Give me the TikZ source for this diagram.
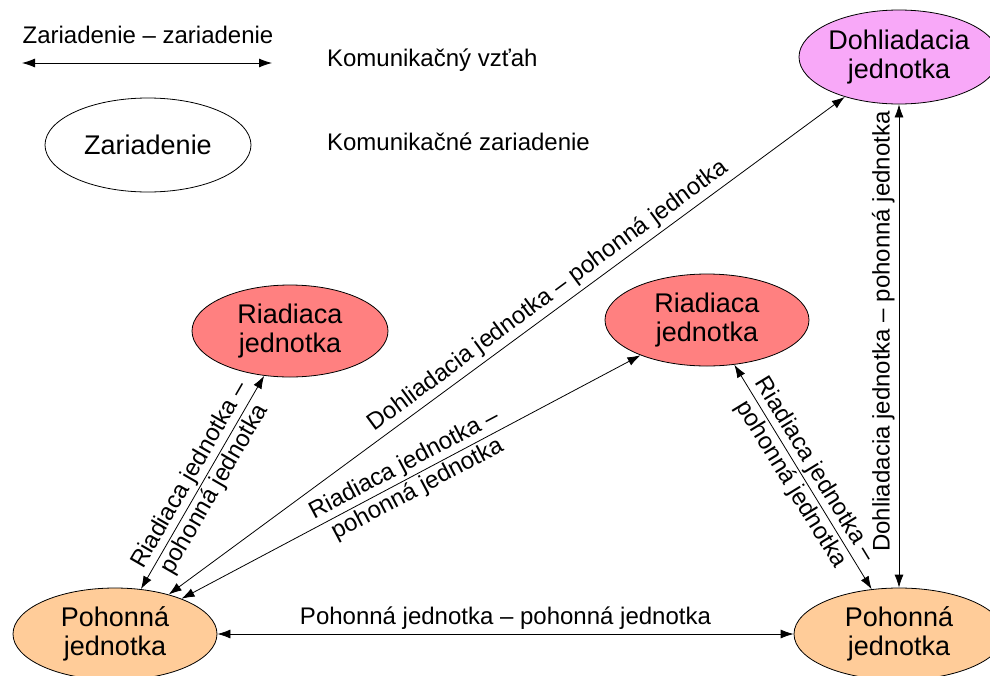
\documentclass[tikz,border=0pt]{standalone}
\usepackage{fontspec}
\setmainfont{Liberation Sans}
\usetikzlibrary{shapes.geometric, arrows.meta}

\definecolor{dohlfarba}{RGB}{248,168,248}
\definecolor{riadfarba}{RGB}{255,128,128}
\definecolor{pohfarba}{RGB}{255,204,153}

\newcommand{\uzolpismo}{\fontsize{13.5}{14.5}\selectfont}
\newcommand{\popispismo}{\fontsize{12}{14}\selectfont}

\tikzset{
  zariadenie/.style={ellipse, draw, thin, align=center, inner sep=0pt,
    minimum width=102pt, minimum height=46pt, font=\uzolpismo},
  vztah/.style={thin, {Latex[length=6.5pt,width=4.5pt]}-{Latex[length=6.5pt,width=4.5pt]}},
  popis/.style={font=\popispismo, sloped, align=center, inner sep=2pt},
}

\begin{document}
\begin{tikzpicture}[x=0.5pt, y=-0.5pt]
  \useasboundingbox (0,0) rectangle (990,675);
  % legenda
  \node[font=\popispismo] (lvztah) at (148,35) {Zariadenie – zariadenie};
  \coordinate (lzac) at (22,63);
  \coordinate (lkon) at (272,63);
  \draw[vztah] (lzac) -- (lkon);
  \node[anchor=west, font=\popispismo] (lvztahtext) at (320,60) {Komunikačný vzťah};
  \node[zariadenie, minimum width=103pt, minimum height=47pt] (lzar) at (148,145) {Zariadenie};
  \node[anchor=west, font=\popispismo] (lzartext) at (320,142) {Komunikačné zariadenie};
  % zariadenia
  \node[zariadenie, fill=dohlfarba, minimum width=100pt, minimum height=47pt] (dohl) at (899,57) {Dohliadacia\\jednotka};
  \node[zariadenie, fill=riadfarba, minimum width=98pt] (riadA) at (290,331) {Riadiaca\\jednotka};
  \node[zariadenie, fill=riadfarba] (riadB) at (707,320) {Riadiaca\\jednotka};
  \node[zariadenie, fill=pohfarba] (pohA) at (115,634) {Pohonná\\jednotka};
  \node[zariadenie, fill=pohfarba, minimum width=105pt] (pohB) at (899,634) {Pohonná\\jednotka};
  % vztahy
  \draw[vztah] (pohA) -- (riadA) node[popis, pos=0.5] {Riadiaca jednotka –\\pohonná jednotka};
  \draw[vztah] (pohA) -- (dohl) node[popis, pos=0.575, above] {Dohliadacia jednotka – pohonná jednotka};
  \draw[vztah] (pohA) -- (riadB) node[popis, pos=0.5] {Riadiaca jednotka –\\pohonná jednotka};
  \draw[vztah] (riadB) -- (pohB) node[popis, pos=0.5] {Riadiaca jednotka –\\pohonná jednotka};
  \draw[vztah] (pohB) -- (dohl) node[popis, pos=0.53, above] {Dohliadacia jednotka – pohonná jednotka};
  \draw[vztah] (pohA) -- (pohB) node[popis, pos=0.5, above] {Pohonná jednotka – pohonná jednotka};
\end{tikzpicture}
\end{document}
